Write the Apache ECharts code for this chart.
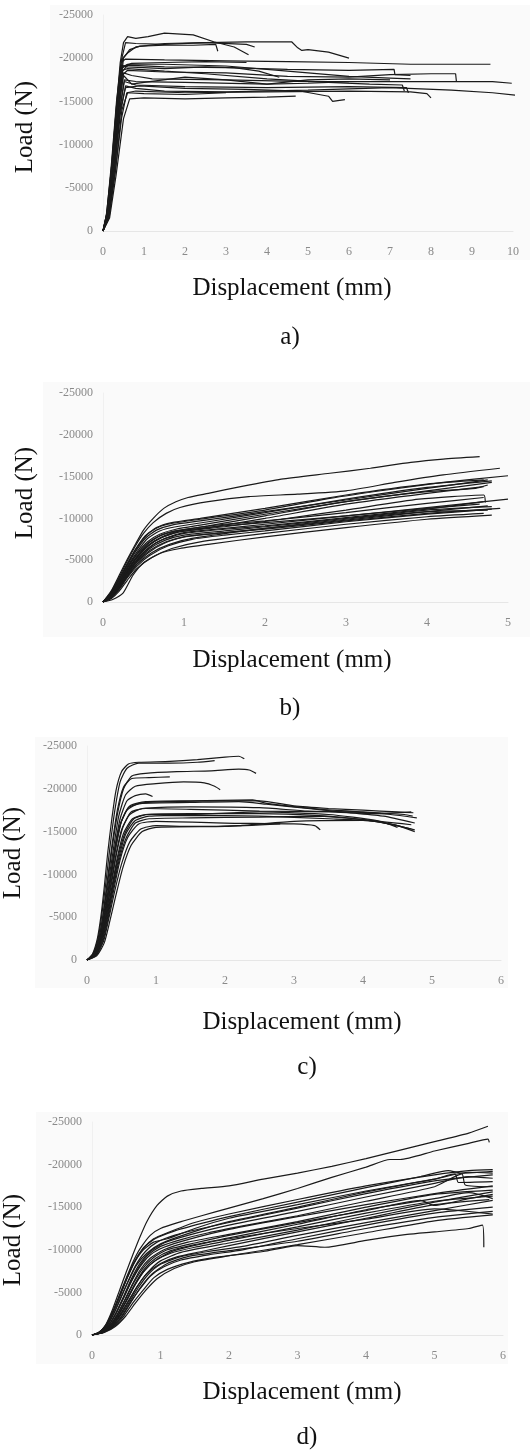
<!DOCTYPE html>
<html>
<head>
<meta charset="utf-8">
<script src="https://cdn.jsdelivr.net/npm/echarts@6/dist/echarts.min.js"></script>
<style>
  html, body { margin: 0; padding: 0; background: #fff; }
  #chart { width: 530px; height: 1450px; }
</style>
</head>
<body>
<div id="chart"></div>
<script>
// displacement (mm) / load (N) pairs
const curvesA = [
  [[0,0],[0.08,-1800],[0.2,-7000],[0.32,-14000],[0.42,-19500],[0.5,-21800],[0.6,-22500],[0.8,-22300],[1.1,-22500],[1.5,-22900],[2.2,-22700],[2.7,-21900],[3.2,-21300],[3.55,-20400]],
  [[0,0],[0.1,-2000],[0.22,-7500],[0.35,-14500],[0.45,-19800],[0.55,-21800],[0.8,-21700],[1.5,-21600],[2.5,-21800],[3.5,-21900],[4.6,-21900],[4.75,-21200],[4.85,-20900],[5.0,-21000],[5.5,-20700],[6.0,-20000]],
  [[0,0],[0.1,-1700],[0.24,-7500],[0.38,-15000],[0.5,-20000],[0.65,-21000],[0.9,-21400],[1.5,-21500],[2.2,-21500],[2.75,-21600],[2.8,-20800]],
  [[0,0],[0.12,-2200],[0.25,-8000],[0.38,-15500],[0.48,-20000],[0.6,-20600],[0.8,-21300],[1.5,-21700],[2.5,-21800],[3.5,-21600],[3.7,-21300]],
  [[0,0],[0.1,-2200],[0.22,-8000],[0.34,-15000],[0.44,-19500],[0.55,-19900],[1.5,-19800],[3,-19700],[4.5,-19600],[6,-19500],[7.5,-19300],[8.5,-19300],[9.45,-19300]],
  [[0,0],[0.12,-1800],[0.25,-7000],[0.38,-14000],[0.48,-18500],[0.6,-19200],[1.5,-19000],[3,-18900],[4.5,-18700],[6,-18600],[7.1,-18700],[7.12,-18100],[7.5,-18000]],
  [[0,0],[0.1,-1500],[0.24,-6500],[0.36,-13000],[0.46,-18000],[0.6,-18600],[1.5,-18400],[3,-18300],[4.5,-17900],[6,-17800],[7,-18100],[8,-18200],[8.6,-18200],[8.62,-17300]],
  [[0,0],[0.12,-2000],[0.26,-7500],[0.4,-14500],[0.5,-18300],[0.7,-18000],[1.2,-17600],[3,-17500],[5,-17300],[7,-17300],[8.5,-17300],[9.5,-17300],[9.97,-17100]],
  [[0,0],[0.14,-1800],[0.28,-7000],[0.42,-13500],[0.55,-16800],[0.8,-16500],[1.5,-16200],[3,-16100],[5,-16300],[7,-16600],[8.5,-16300],[9.5,-16000],[10.1,-15700]],
  [[0,0],[0.11,-1900],[0.24,-7200],[0.37,-14500],[0.47,-18600],[0.6,-18800],[1.5,-18500],[2.5,-18200],[4,-17600],[5.5,-17200],[6.5,-17000],[7.3,-16900],[7.35,-16200]],
  [[0,0],[0.15,-1600],[0.3,-6800],[0.45,-13000],[0.58,-16000],[0.8,-16200],[2,-16000],[4,-16100],[6,-16200],[7.5,-16100],[7.9,-15900],[8.0,-15400]],
  [[0,0],[0.13,-1700],[0.27,-7000],[0.42,-14000],[0.55,-16600],[0.9,-16800],[2,-16500],[3.5,-16400],[4.8,-16200],[5.5,-15600],[5.6,-15000],[5.9,-15200]],
  [[0,0],[0.16,-1500],[0.32,-6500],[0.5,-13000],[0.65,-15300],[1,-15400],[2,-15300],[3,-15400],[4,-15500],[4.7,-15600]],
  [[0,0],[0.14,-1600],[0.3,-7000],[0.46,-14000],[0.6,-16000],[1,-15900],[2,-15800],[3,-16000]],
  [[0,0],[0.09,-2000],[0.21,-8000],[0.33,-15000],[0.43,-19200],[0.6,-19000],[1.5,-18800],[2.5,-19000],[3.2,-18900],[3.8,-18500],[4.3,-17800]],
  [[0,0],[0.13,-2000],[0.28,-7500],[0.42,-14500],[0.52,-17500],[0.8,-17300],[2,-17200],[4,-17000],[5,-17100],[6,-17300]],
  [[0,0],[0.1,-2000],[0.23,-8000],[0.36,-15000],[0.45,-19000],[0.7,-19400],[1.5,-19500],[2.5,-19600],[3.5,-19500]],
  [[0,0],[0.11,-1800],[0.25,-7500],[0.38,-14500],[0.5,-18000],[0.7,-17000],[1,-17200],[2,-17800],[3,-17500],[4,-17000],[5,-17500],[6,-17600],[7,-17500]],
  [[0,0],[0.1,-1900],[0.23,-7500],[0.36,-14500],[0.46,-18800],[0.6,-19300],[1.5,-19300],[3,-19100],[4.5,-18500],[6,-17900],[7,-17700],[7.5,-17600]],
  [[0,0],[0.13,-1800],[0.27,-7200],[0.41,-14000],[0.52,-17300],[0.8,-16900],[2,-16700],[4,-16600],[6,-16700],[7.4,-16600],[7.45,-16000]]
];

const curvesB = [
  [[0,0],[0.1,-1300],[0.2,-3200],[0.3,-5100],[0.4,-6900],[0.5,-8600],[0.62,-10000],[0.75,-11200],[0.9,-12000],[1.05,-12500],[1.3,-13000],[1.7,-13800],[2.2,-14700],[2.8,-15400],[3.3,-16000],[3.8,-16700],[4.2,-17100],[4.65,-17400]],
  [[0,0],[0.1,-1200],[0.2,-3000],[0.3,-4900],[0.4,-6700],[0.5,-8200],[0.62,-9500],[0.78,-10600],[0.95,-11300],[1.3,-12000],[1.8,-12600],[2.4,-12900],[3,-13300],[3.6,-14300],[4.2,-15200],[4.9,-16000]],
  [[0,0],[0.1,-1100],[0.2,-2800],[0.3,-4600],[0.4,-6300],[0.52,-7900],[0.65,-8800],[0.8,-9300],[1.2,-9900],[2,-11000],[2.8,-12400],[3.5,-13400],[4.2,-14300],[5.0,-15100]],
  [[0,0],[0.1,-1000],[0.2,-2600],[0.3,-4400],[0.4,-6000],[0.52,-7600],[0.66,-8600],[0.85,-9200],[1.2,-9700],[2,-10800],[3,-12200],[4,-13600],[4.75,-14600]],
  [[0,0],[0.1,-900],[0.2,-2400],[0.3,-4100],[0.42,-5800],[0.55,-7200],[0.7,-8100],[0.9,-8700],[1.2,-9200],[2,-10500],[3,-12000],[4,-13300],[4.8,-14300]],
  [[0,0],[0.1,-800],[0.2,-2200],[0.3,-3800],[0.42,-5400],[0.56,-6800],[0.72,-7700],[0.9,-8300],[1.3,-8900],[2,-10000],[3,-11700],[4,-13000],[4.7,-13800]],
  [[0,0],[0.1,-900],[0.2,-2300],[0.3,-4000],[0.42,-5700],[0.56,-7100],[0.72,-8000],[0.9,-8500],[1.3,-9100],[2,-10300],[3,-12000],[4,-13200],[4.6,-13600],[4.75,-14000]],
  [[0,0],[0.1,-800],[0.2,-2100],[0.3,-3700],[0.42,-5300],[0.56,-6700],[0.72,-7700],[0.95,-8400],[1.5,-9000],[2.2,-9900],[3,-11000],[3.9,-12300],[4.7,-12800],[4.72,-11900]],
  [[0,0],[0.1,-700],[0.2,-1900],[0.3,-3400],[0.42,-5000],[0.56,-6400],[0.72,-7400],[1.0,-8200],[1.5,-8700],[2,-9100],[3,-10100],[4,-11100],[4.7,-12000]],
  [[0,0],[0.1,-600],[0.2,-1700],[0.3,-3100],[0.42,-4600],[0.56,-5900],[0.75,-7000],[1.0,-7800],[1.5,-8300],[2,-8800],[3,-9800],[4,-10800],[4.75,-11500]],
  [[0,0],[0.1,-500],[0.2,-1500],[0.3,-2900],[0.42,-4300],[0.58,-5600],[0.8,-6700],[1.1,-7500],[1.5,-8000],[2,-8500],[3,-9600],[4,-10500],[4.8,-11100]],
  [[0,0],[0.1,-400],[0.2,-1300],[0.3,-2600],[0.42,-4000],[0.6,-5300],[0.85,-6400],[1.2,-7200],[2,-8200],[3,-9300],[4,-10200],[4.7,-10600]],
  [[0,0],[0.12,-300],[0.25,-1100],[0.37,-3200],[0.5,-4700],[0.7,-5800],[0.95,-6400],[1.3,-6900],[2,-7800],[3,-8900],[4,-9900],[4.8,-10400]],
  [[0,0],[0.1,-700],[0.2,-2000],[0.3,-3600],[0.42,-5300],[0.58,-6900],[0.75,-7900],[0.95,-8500],[1.5,-9100],[2,-9500],[3,-10300],[4,-11300],[5.0,-12300]],
  [[0,0],[0.1,-600],[0.2,-1800],[0.3,-3200],[0.42,-4800],[0.58,-6200],[0.78,-7200],[1,-7800],[1.5,-8300],[2,-8700],[3,-9700],[4,-10600],[4.9,-11200]],
  [[0,0],[0.1,-1000],[0.2,-2700],[0.3,-4500],[0.4,-6200],[0.52,-7800],[0.66,-8900],[0.85,-9500],[1.2,-10000],[2,-11200],[3,-12800],[4,-14100],[4.7,-14600]],
  [[0,0],[0.1,-700],[0.2,-2000],[0.3,-3500],[0.42,-5100],[0.58,-6600],[0.76,-7600],[1,-8300],[1.5,-8800],[2,-9300],[3,-10300],[4,-11200],[4.65,-11700]],
  [[0,0],[0.1,-500],[0.2,-1600],[0.3,-3000],[0.42,-4500],[0.6,-5900],[0.82,-6900],[1.1,-7600],[2,-8800],[3,-9900],[4,-10800],[4.75,-11000]],
  [[0,0],[0.1,-900],[0.2,-2400],[0.3,-4200],[0.42,-6000],[0.55,-7600],[0.7,-8500],[0.9,-9000],[1.3,-9600],[2,-10700],[3,-12300],[4,-13700],[4.8,-14500]],
  [[0,0],[0.1,-600],[0.2,-1800],[0.3,-3300],[0.42,-4900],[0.58,-6400],[0.77,-7400],[1,-8000],[1.5,-8500],[2,-9000],[3,-10000],[4,-11000],[4.8,-11400]],
  [[0,0],[0.1,-800],[0.2,-2200],[0.3,-3800],[0.42,-5500],[0.56,-7000],[0.72,-8000],[0.95,-8600],[1.5,-9300],[2,-9700],[3,-10700],[4,-11800],[4.7,-12500]]
];

const curvesC = [
  [[0,0],[0.08,-700],[0.15,-2500],[0.2,-5000],[0.25,-8500],[0.3,-12500],[0.36,-16500],[0.42,-19800],[0.5,-22000],[0.6,-22900],[0.75,-23100],[1.2,-23200],[1.6,-23400],[2.0,-23700],[2.2,-23800],[2.28,-23500]],
  [[0,0],[0.08,-600],[0.16,-2500],[0.21,-5000],[0.27,-8800],[0.33,-13000],[0.4,-17300],[0.48,-20800],[0.58,-22400],[0.75,-23000],[1.2,-23000],[1.6,-23100],[1.85,-23300]],
  [[0,0],[0.09,-600],[0.17,-2400],[0.23,-5000],[0.29,-8500],[0.36,-12800],[0.44,-17000],[0.53,-20000],[0.65,-21500],[0.85,-21800],[1.3,-22000],[1.8,-22100],[2.2,-22300],[2.35,-22200],[2.45,-21800]],
  [[0,0],[0.09,-500],[0.18,-2300],[0.24,-5000],[0.3,-8500],[0.38,-12800],[0.46,-16800],[0.56,-19300],[0.7,-20300],[1.0,-20600],[1.4,-20800],[1.7,-20700],[1.85,-20300],[1.93,-19900]],
  [[0,0],[0.1,-500],[0.19,-2300],[0.25,-5000],[0.32,-8800],[0.4,-13000],[0.48,-16500],[0.58,-18600],[0.7,-19200],[0.85,-19400],[0.95,-19100]],
  [[0,0],[0.09,-600],[0.17,-2500],[0.23,-5200],[0.29,-9000],[0.36,-13300],[0.44,-17500],[0.53,-20200],[0.65,-21200],[0.9,-21300],[1.2,-21400]],
  [[0,0],[0.1,-600],[0.19,-2500],[0.25,-5000],[0.32,-8700],[0.4,-12800],[0.48,-15800],[0.58,-17500],[0.75,-18300],[1.2,-18500],[2,-18600],[2.5,-18600],[3.0,-18000],[3.5,-17700],[4,-17500],[4.5,-17300],[4.73,-17200]],
  [[0,0],[0.1,-500],[0.2,-2300],[0.27,-5000],[0.34,-8600],[0.42,-12300],[0.5,-15200],[0.62,-17000],[0.8,-17700],[1.5,-17900],[2.5,-17800],[3.2,-17400],[3.8,-17300],[4.4,-17000],[4.78,-16600]],
  [[0,0],[0.11,-500],[0.21,-2300],[0.28,-5000],[0.36,-8500],[0.44,-12000],[0.53,-14800],[0.66,-16500],[0.85,-17000],[1.5,-17100],[2.5,-17100],[3.3,-16900],[4,-16400],[4.5,-15700],[4.75,-15000]],
  [[0,0],[0.12,-500],[0.22,-2200],[0.3,-5000],[0.38,-8400],[0.47,-11800],[0.57,-14300],[0.7,-16000],[0.9,-16500],[1.5,-16600],[2.5,-16700],[3.3,-16800],[4,-16400],[4.5,-15700],[4.7,-15300]],
  [[0,0],[0.13,-500],[0.24,-2200],[0.32,-5000],[0.4,-8000],[0.5,-11200],[0.62,-13800],[0.78,-15300],[1,-15700],[1.5,-15600],[2.2,-15700],[3,-16200],[4,-16300],[4.7,-15800]],
  [[0,0],[0.12,-500],[0.23,-2200],[0.31,-5000],[0.39,-8300],[0.48,-11700],[0.59,-14300],[0.75,-15900],[1,-16200],[2,-16000],[3,-15900],[3.3,-15700],[3.38,-15200]],
  [[0,0],[0.1,-600],[0.19,-2500],[0.26,-5200],[0.33,-8800],[0.41,-12800],[0.49,-16000],[0.6,-17800],[0.8,-18300],[1.5,-18400],[2.2,-18500],[2.6,-18200],[3.2,-17700],[3.8,-17200],[4.3,-16800],[4.75,-16000]],
  [[0,0],[0.11,-500],[0.21,-2400],[0.29,-5000],[0.37,-8600],[0.45,-12000],[0.55,-14800],[0.68,-16500],[0.9,-17000],[1.5,-17000],[2.5,-17300],[3.5,-17000],[4.2,-16300],[4.5,-15500]],
  [[0,0],[0.14,-500],[0.25,-2000],[0.33,-4500],[0.42,-7600],[0.52,-10800],[0.64,-13400],[0.8,-15000],[1,-15500],[2,-15600],[2.8,-15900]],
  [[0,0],[0.1,-600],[0.2,-2400],[0.27,-5000],[0.35,-8700],[0.43,-12500],[0.52,-15500],[0.64,-17300],[0.85,-17700],[1.5,-17600],[2.5,-17400],[3.5,-17300],[4.2,-17100],[4.7,-17300]],
  [[0,0],[0.11,-500],[0.21,-2300],[0.29,-5000],[0.37,-8400],[0.46,-11900],[0.56,-14700],[0.7,-16300],[0.9,-16800],[1.5,-16900],[2.5,-16800],[3.5,-16500],[4.2,-16200],[4.75,-15200]],
  [[0,0],[0.1,-600],[0.19,-2500],[0.26,-5100],[0.33,-8800],[0.41,-12800],[0.5,-16200],[0.62,-18000],[0.85,-18500],[1.5,-18600],[2.4,-18700],[2.6,-18300],[3.4,-17600],[4,-17300],[4.6,-17000],[4.72,-16800]]
];

const curvesD = [
  [[0,0],[0.1,-300],[0.2,-1200],[0.3,-3000],[0.4,-5200],[0.5,-7400],[0.6,-9500],[0.7,-11500],[0.8,-13300],[0.95,-15200],[1.1,-16300],[1.3,-16900],[1.6,-17200],[2.0,-17500],[2.5,-18300],[3,-19000],[3.5,-19800],[4,-20700],[4.5,-21700],[5,-22700],[5.5,-23700],[5.78,-24500]],
  [[0,0],[0.1,-300],[0.2,-1100],[0.3,-2700],[0.4,-4700],[0.5,-6700],[0.6,-8600],[0.7,-10100],[0.85,-11700],[1.0,-12500],[1.3,-13300],[1.6,-14000],[2,-14900],[2.5,-16000],[3,-17200],[3.5,-18500],[4,-19700],[4.35,-20600],[4.5,-20600],[5,-21600],[5.5,-22500],[5.78,-23000],[5.8,-22600]],
  [[0,0],[0.1,-300],[0.2,-1100],[0.3,-2600],[0.4,-4500],[0.5,-6500],[0.62,-8600],[0.75,-10200],[0.9,-11300],[1.1,-12000],[1.5,-13200],[2,-14200],[3,-15900],[4,-17500],[5,-18800],[5.5,-19300],[5.85,-19400]],
  [[0,0],[0.12,-300],[0.22,-1100],[0.32,-2500],[0.42,-4300],[0.52,-6200],[0.64,-8200],[0.78,-9800],[0.95,-10900],[1.2,-11700],[1.6,-12500],[2,-13200],[3,-14900],[4,-16600],[5,-18100],[5.85,-18800]],
  [[0,0],[0.12,-300],[0.23,-1000],[0.34,-2400],[0.45,-4200],[0.56,-6100],[0.68,-7900],[0.82,-9400],[1.0,-10400],[1.3,-11200],[1.7,-12000],[2.2,-12800],[3,-14000],[4,-15700],[5,-17400],[5.4,-18900],[5.45,-17600],[5.85,-17400]],
  [[0,0],[0.13,-300],[0.25,-1000],[0.36,-2300],[0.47,-4000],[0.58,-5800],[0.7,-7600],[0.85,-9000],[1.05,-10000],[1.4,-10900],[2,-11800],[3,-13300],[4,-15000],[5,-16500],[5.85,-17000]],
  [[0,0],[0.14,-300],[0.26,-1000],[0.38,-2300],[0.5,-4000],[0.62,-5800],[0.75,-7400],[0.92,-8700],[1.15,-9600],[1.5,-10300],[2,-11100],[3,-12700],[4,-14300],[5,-15700],[5.85,-16300]],
  [[0,0],[0.15,-300],[0.28,-1000],[0.4,-2300],[0.53,-4000],[0.66,-5700],[0.8,-7200],[1.0,-8400],[1.25,-9200],[1.6,-9800],[2,-10500],[3,-12100],[4,-13700],[5,-15300],[5.8,-15900]],
  [[0,0],[0.16,-300],[0.3,-1000],[0.43,-2200],[0.56,-3800],[0.7,-5400],[0.85,-6900],[1.05,-8000],[1.3,-8800],[1.7,-9400],[2.2,-10000],[3,-11300],[4,-12900],[5,-14300],[5.85,-15000]],
  [[0,0],[0.17,-300],[0.32,-1000],[0.46,-2200],[0.6,-3800],[0.75,-5300],[0.9,-6700],[1.1,-7700],[1.4,-8500],[1.8,-9100],[2.5,-9800],[3,-10500],[3.4,-10300],[4,-11100],[4.6,-11800],[5,-12100],[5.5,-12500],[5.7,-12900],[5.72,-10300]],
  [[0,0],[0.11,-350],[0.21,-1200],[0.31,-2700],[0.41,-4600],[0.51,-6600],[0.62,-8500],[0.75,-10000],[0.9,-10900],[1.1,-11300],[1.5,-12500],[2,-13700],[3,-15300],[4,-16900],[5,-18300],[5.5,-19100],[5.85,-19000]],
  [[0,0],[0.13,-300],[0.24,-1100],[0.35,-2500],[0.46,-4300],[0.57,-6200],[0.7,-8000],[0.85,-9400],[1.05,-10300],[1.4,-11200],[2,-12400],[3,-13900],[4,-15300],[5,-16600],[5.85,-17500]],
  [[0,0],[0.14,-300],[0.27,-1000],[0.39,-2400],[0.51,-4100],[0.63,-5900],[0.77,-7600],[0.95,-8900],[1.2,-9900],[1.6,-10700],[2,-11300],[3,-12500],[4,-13600],[5,-14800],[5.85,-14200]],
  [[0,0],[0.15,-300],[0.29,-1000],[0.42,-2300],[0.55,-3900],[0.68,-5600],[0.82,-7100],[1.0,-8300],[1.3,-9200],[1.7,-9800],[2.2,-10400],[3,-11700],[4,-13200],[5,-14600],[5.85,-15800]],
  [[0,0],[0.12,-300],[0.22,-1100],[0.32,-2600],[0.42,-4400],[0.53,-6300],[0.65,-8200],[0.8,-9600],[1.0,-10700],[1.4,-11900],[2,-13300],[3,-15000],[4,-16800],[4.6,-17700],[5,-18300],[5.3,-18900],[5.35,-17900],[5.85,-18000]],
  [[0,0],[0.13,-300],[0.25,-1000],[0.37,-2400],[0.49,-4200],[0.6,-6000],[0.74,-7800],[0.9,-9100],[1.1,-10000],[1.5,-10800],[2,-11700],[3,-13200],[4,-14600],[4.8,-15800],[5,-15200],[5.5,-16000],[5.85,-16500]],
  [[0,0],[0.16,-300],[0.31,-1000],[0.45,-2300],[0.58,-4000],[0.72,-5700],[0.88,-7200],[1.1,-8400],[1.4,-9200],[2,-9900],[3,-11000],[4,-12500],[5,-13800],[5.85,-14500]],
  [[0,0],[0.12,-300],[0.24,-1100],[0.35,-2600],[0.46,-4500],[0.57,-6500],[0.7,-8400],[0.85,-9800],[1.05,-10800],[1.4,-11700],[2,-12900],[3,-14500],[4,-16200],[5,-17800],[5.5,-18600],[5.85,-18400]],
  [[0,0],[0.15,-300],[0.28,-1000],[0.41,-2300],[0.54,-4000],[0.67,-5800],[0.82,-7400],[1.0,-8700],[1.3,-9700],[2,-10800],[3,-12300],[4,-14000],[5,-15600],[5.85,-16800]],
  [[0,0],[0.11,-350],[0.21,-1200],[0.31,-2800],[0.41,-4700],[0.51,-6700],[0.62,-8600],[0.76,-10300],[0.92,-11300],[1.2,-12200],[1.6,-13100],[2,-13900],[3,-15600],[4,-17300],[4.8,-18600],[5.2,-19300],[5.4,-19000],[5.85,-19200]],
  [[0,0],[0.14,-300],[0.26,-1000],[0.38,-2300],[0.5,-4000],[0.62,-5900],[0.76,-7700],[0.93,-9000],[1.15,-9900],[1.5,-10600],[2,-11400],[3,-13000],[4,-14700],[5,-16000],[5.5,-16700],[5.85,-16000]],
  [[0,0],[0.18,-300],[0.34,-1000],[0.49,-2200],[0.63,-3700],[0.78,-5200],[0.95,-6600],[1.2,-7800],[1.5,-8600],[2,-9300],[3,-10600],[4,-12000],[5,-13400],[5.85,-14100]]
];

const panelCurves = [curvesA, curvesB, curvesC, curvesD];
const xMaxes = [10, 5, 6, 6];
const panelTags = ['a)', 'b)', 'c)', 'd)'];
const loadMin = -25000;
const loadStep = 5000;

// layout of each panel on the page
const grids = [
  { left: 103, top: 15, width: 410, height: 216 },
  { left: 103, top: 393, width: 405, height: 209 },
  { left: 87, top: 746, width: 414, height: 214 },
  { left: 92, top: 1122, width: 411, height: 213 }
];
const boxes = [
  [50, 5, 480, 255], [43, 382, 487, 255], [35, 737, 473, 251], [36, 1112, 472, 252]
];
const yTitlePos = [[25, 127], [25, 493], [13, 853], [13, 1240]];
const xTitlePos = [[292, 288], [292, 660], [302, 1022], [302, 1392]];
const tagPos = [[290, 337], [290, 708], [307, 1067], [307, 1437]];

const tickFont = { color: '#8a8a8a', fontSize: 12, fontFamily: 'Liberation Serif' };
const titleFont = '25px "Liberation Serif"';

const chart = echarts.init(document.getElementById('chart'));

const xAxis = [], yAxis = [], series = [], graphic = [];
grids.forEach((g, i) => {
  xAxis.push({
    type: 'value', gridIndex: i, min: 0, max: xMaxes[i], interval: 1,
    axisLine: { lineStyle: { color: '#e6e6e6' } },
    axisTick: { show: false },
    splitLine: { show: false },
    axisLabel: Object.assign({ margin: 15 }, tickFont)
  });
  yAxis.push({
    type: 'value', gridIndex: i, min: loadMin, max: 0, interval: loadStep, inverse: true,
    axisLine: { show: true, lineStyle: { color: '#f0f0f0' } },
    axisTick: { show: false },
    splitLine: { show: false },
    axisLabel: Object.assign({ margin: 10, formatter: (v) => String(v) }, tickFont)
  });
  panelCurves[i].forEach((c) => {
    series.push({
      type: 'line', xAxisIndex: i, yAxisIndex: i, data: c,
      showSymbol: false, smooth: i === 0 ? false : 0.2,
      lineStyle: { color: '#1a1a1a', width: 1.2 },
      silent: true
    });
  });
  const b = boxes[i];
  graphic.push({ type: 'rect', z: -10, shape: { x: b[0], y: b[1], width: b[2], height: b[3] }, style: { fill: '#fafafa' } });
  graphic.push({
    type: 'text', x: yTitlePos[i][0], y: yTitlePos[i][1], rotation: Math.PI / 2,
    style: { text: 'Load (N)', font: titleFont, fill: '#111', align: 'center', verticalAlign: 'middle' }
  });
  graphic.push({
    type: 'text', x: xTitlePos[i][0], y: xTitlePos[i][1],
    style: { text: 'Displacement (mm)', font: titleFont, fill: '#111', align: 'center', verticalAlign: 'middle' }
  });
  graphic.push({
    type: 'text', x: tagPos[i][0], y: tagPos[i][1],
    style: { text: panelTags[i], font: titleFont, fill: '#111', align: 'center', verticalAlign: 'middle' }
  });
});

chart.setOption({
  animation: false,
  backgroundColor: '#fff',
  grid: grids,
  xAxis: xAxis,
  yAxis: yAxis,
  series: series,
  graphic: graphic
});
</script>
</body>
</html>
